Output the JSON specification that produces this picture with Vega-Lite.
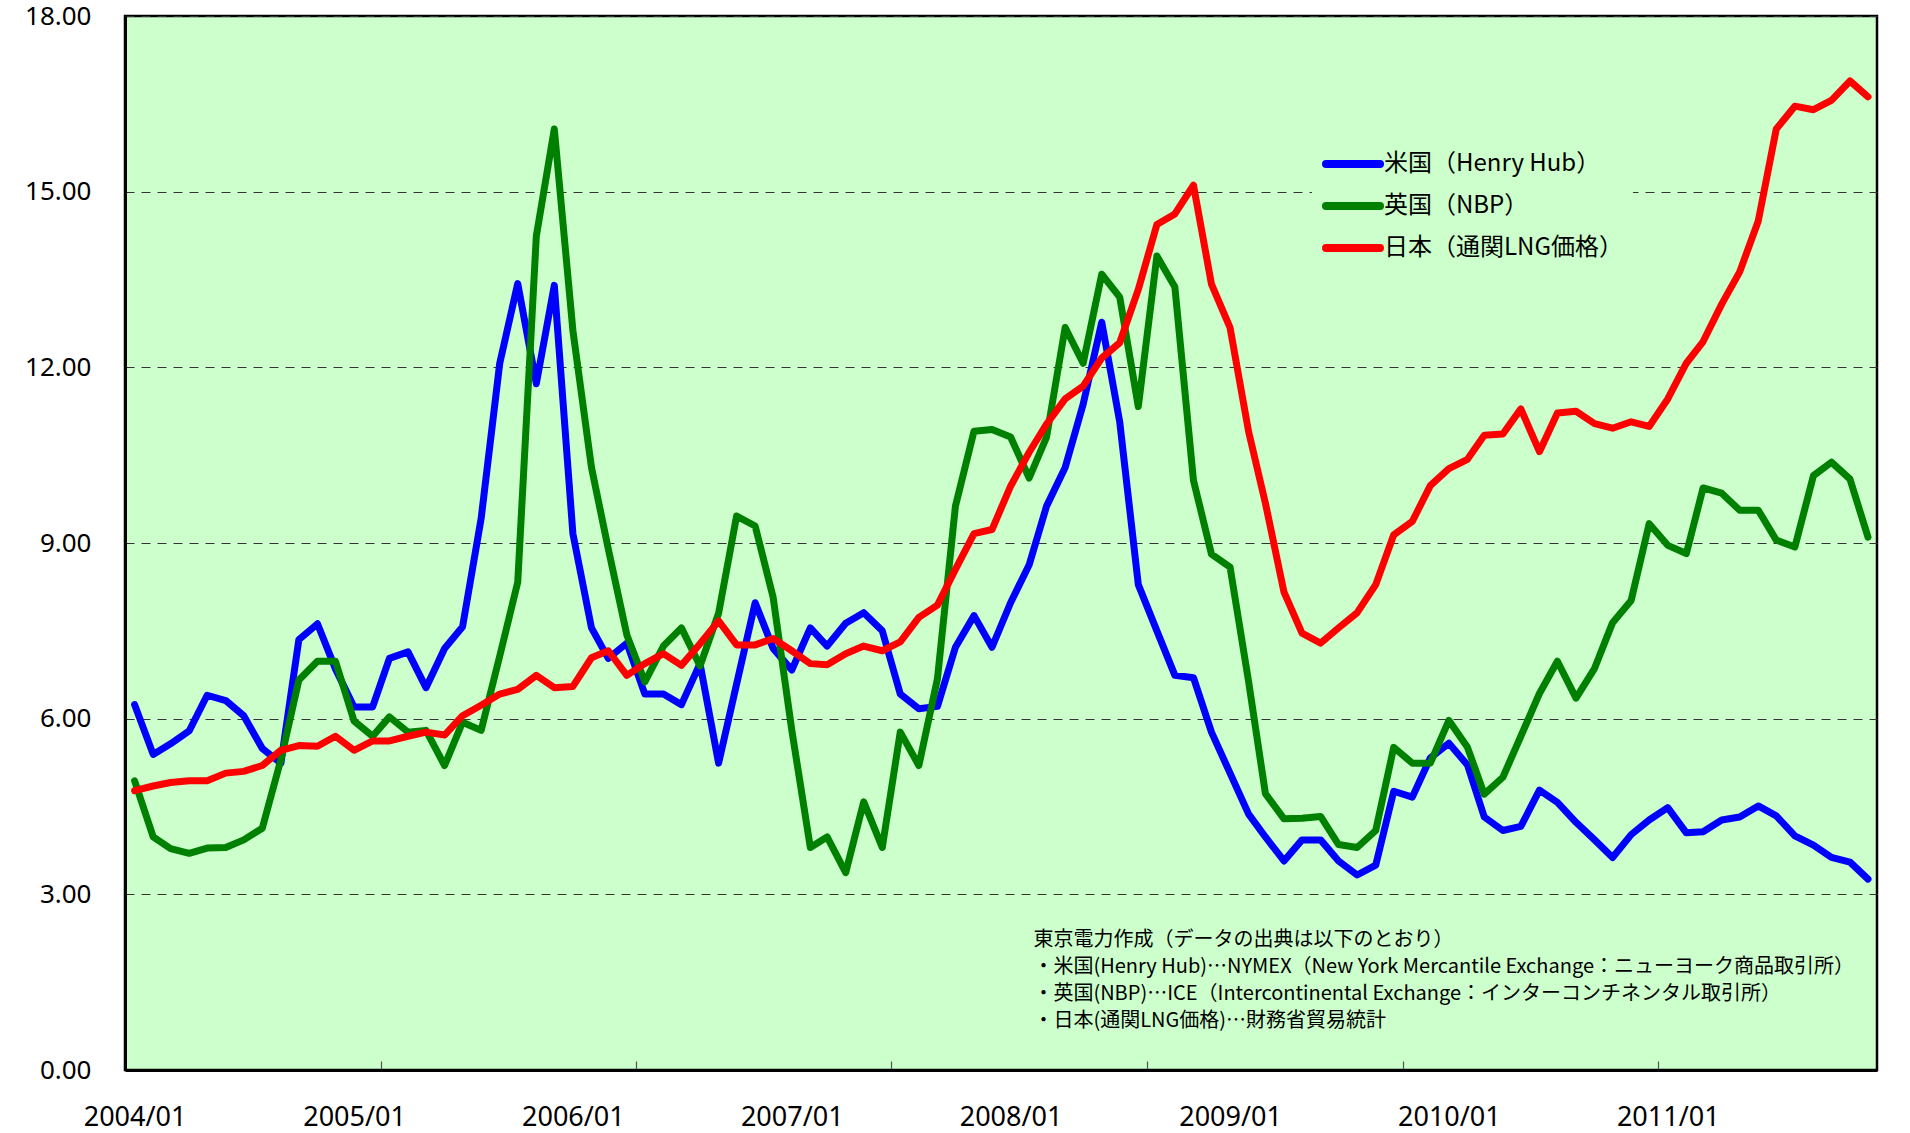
{
  "$schema": "https://vega.github.io/schema/vega-lite/v6.json",
  "width": 1752,
  "height": 1054,
  "autosize": {"type": "none"},
  "padding": {"left": 125, "top": 16, "right": 33, "bottom": 63},
  "background": "#ffffff",
  "config": {
    "view": {"fill": "#CCFFCC", "stroke": "#000000", "strokeWidth": 2.5}
  },
  "layer": [
    {
      "data": {
        "values": [
          {"month": "2004/01", "us": 6.24, "uk": 4.94, "jp": 4.77},
          {"month": "2004/02", "us": 5.39, "uk": 3.98, "jp": 4.85},
          {"month": "2004/03", "us": 5.57, "uk": 3.78, "jp": 4.91},
          {"month": "2004/04", "us": 5.79, "uk": 3.70, "jp": 4.94},
          {"month": "2004/05", "us": 6.40, "uk": 3.79, "jp": 4.94},
          {"month": "2004/06", "us": 6.31, "uk": 3.80, "jp": 5.07},
          {"month": "2004/07", "us": 6.05, "uk": 3.93, "jp": 5.10},
          {"month": "2004/08", "us": 5.49, "uk": 4.13, "jp": 5.20},
          {"month": "2004/09", "us": 5.24, "uk": 5.30, "jp": 5.46},
          {"month": "2004/10", "us": 7.35, "uk": 6.66, "jp": 5.54},
          {"month": "2004/11", "us": 7.62, "uk": 6.98, "jp": 5.53},
          {"month": "2004/12", "us": 6.85, "uk": 6.98, "jp": 5.70},
          {"month": "2005/01", "us": 6.20, "uk": 5.96, "jp": 5.46},
          {"month": "2005/02", "us": 6.20, "uk": 5.70, "jp": 5.62},
          {"month": "2005/03", "us": 7.03, "uk": 6.03, "jp": 5.62},
          {"month": "2005/04", "us": 7.14, "uk": 5.77, "jp": 5.70},
          {"month": "2005/05", "us": 6.53, "uk": 5.80, "jp": 5.77},
          {"month": "2005/06", "us": 7.20, "uk": 5.20, "jp": 5.72},
          {"month": "2005/07", "us": 7.57, "uk": 5.94, "jp": 6.05},
          {"month": "2005/08", "us": 9.42, "uk": 5.80, "jp": 6.23},
          {"month": "2005/09", "us": 12.07, "uk": 7.07, "jp": 6.42},
          {"month": "2005/10", "us": 13.43, "uk": 8.33, "jp": 6.50},
          {"month": "2005/11", "us": 11.72, "uk": 14.24, "jp": 6.74},
          {"month": "2005/12", "us": 13.40, "uk": 16.07, "jp": 6.53},
          {"month": "2006/01", "us": 9.16, "uk": 12.63, "jp": 6.55},
          {"month": "2006/02", "us": 7.55, "uk": 10.29, "jp": 7.04},
          {"month": "2006/03", "us": 7.03, "uk": 8.90, "jp": 7.16},
          {"month": "2006/04", "us": 7.29, "uk": 7.43, "jp": 6.74},
          {"month": "2006/05", "us": 6.42, "uk": 6.63, "jp": 6.94},
          {"month": "2006/06", "us": 6.42, "uk": 7.24, "jp": 7.11},
          {"month": "2006/07", "us": 6.24, "uk": 7.55, "jp": 6.91},
          {"month": "2006/08", "us": 6.94, "uk": 6.90, "jp": 7.28},
          {"month": "2006/09", "us": 5.24, "uk": 7.80, "jp": 7.67},
          {"month": "2006/10", "us": 6.59, "uk": 9.46, "jp": 7.26},
          {"month": "2006/11", "us": 7.98, "uk": 9.29, "jp": 7.26},
          {"month": "2006/12", "us": 7.20, "uk": 8.07, "jp": 7.37},
          {"month": "2007/01", "us": 6.83, "uk": 5.81, "jp": 7.16},
          {"month": "2007/02", "us": 7.55, "uk": 3.80, "jp": 6.94},
          {"month": "2007/03", "us": 7.24, "uk": 3.98, "jp": 6.92},
          {"month": "2007/04", "us": 7.63, "uk": 3.37, "jp": 7.11},
          {"month": "2007/05", "us": 7.81, "uk": 4.58, "jp": 7.24},
          {"month": "2007/06", "us": 7.50, "uk": 3.80, "jp": 7.16},
          {"month": "2007/07", "us": 6.42, "uk": 5.77, "jp": 7.31},
          {"month": "2007/08", "us": 6.17, "uk": 5.20, "jp": 7.73},
          {"month": "2007/09", "us": 6.21, "uk": 6.68, "jp": 7.94},
          {"month": "2007/10", "us": 7.22, "uk": 9.63, "jp": 8.55},
          {"month": "2007/11", "us": 7.76, "uk": 10.91, "jp": 9.16},
          {"month": "2007/12", "us": 7.22, "uk": 10.94, "jp": 9.23},
          {"month": "2008/01", "us": 7.98, "uk": 10.81, "jp": 9.97},
          {"month": "2008/02", "us": 8.63, "uk": 10.11, "jp": 10.55},
          {"month": "2008/03", "us": 9.63, "uk": 10.81, "jp": 11.03},
          {"month": "2008/04", "us": 10.29, "uk": 12.68, "jp": 11.46},
          {"month": "2008/05", "us": 11.37, "uk": 12.07, "jp": 11.68},
          {"month": "2008/06", "us": 12.77, "uk": 13.59, "jp": 12.16},
          {"month": "2008/07", "us": 11.07, "uk": 13.20, "jp": 12.42},
          {"month": "2008/08", "us": 8.29, "uk": 11.33, "jp": 13.33},
          {"month": "2008/09", "us": 7.50, "uk": 13.90, "jp": 14.44},
          {"month": "2008/10", "us": 6.74, "uk": 13.37, "jp": 14.62},
          {"month": "2008/11", "us": 6.70, "uk": 10.07, "jp": 15.11},
          {"month": "2008/12", "us": 5.77, "uk": 8.81, "jp": 13.42},
          {"month": "2009/01", "us": 5.07, "uk": 8.59, "jp": 12.68},
          {"month": "2009/02", "us": 4.37, "uk": 6.63, "jp": 10.90},
          {"month": "2009/03", "us": 3.98, "uk": 4.72, "jp": 9.68},
          {"month": "2009/04", "us": 3.57, "uk": 4.29, "jp": 8.16},
          {"month": "2009/05", "us": 3.93, "uk": 4.30, "jp": 7.46},
          {"month": "2009/06", "us": 3.93, "uk": 4.33, "jp": 7.29},
          {"month": "2009/07", "us": 3.57, "uk": 3.85, "jp": 7.55},
          {"month": "2009/08", "us": 3.33, "uk": 3.80, "jp": 7.81},
          {"month": "2009/09", "us": 3.50, "uk": 4.09, "jp": 8.29},
          {"month": "2009/10", "us": 4.76, "uk": 5.51, "jp": 9.14},
          {"month": "2009/11", "us": 4.66, "uk": 5.24, "jp": 9.37},
          {"month": "2009/12", "us": 5.33, "uk": 5.24, "jp": 9.98},
          {"month": "2010/01", "us": 5.58, "uk": 5.97, "jp": 10.27},
          {"month": "2010/02", "us": 5.21, "uk": 5.51, "jp": 10.43},
          {"month": "2010/03", "us": 4.32, "uk": 4.71, "jp": 10.84},
          {"month": "2010/04", "us": 4.09, "uk": 5.00, "jp": 10.86},
          {"month": "2010/05", "us": 4.16, "uk": 5.70, "jp": 11.29},
          {"month": "2010/06", "us": 4.78, "uk": 6.43, "jp": 10.56},
          {"month": "2010/07", "us": 4.57, "uk": 6.98, "jp": 11.22},
          {"month": "2010/08", "us": 4.23, "uk": 6.35, "jp": 11.25},
          {"month": "2010/09", "us": 3.93, "uk": 6.86, "jp": 11.04},
          {"month": "2010/10", "us": 3.63, "uk": 7.64, "jp": 10.96},
          {"month": "2010/11", "us": 4.02, "uk": 8.02, "jp": 11.07},
          {"month": "2010/12", "us": 4.27, "uk": 9.33, "jp": 10.99},
          {"month": "2011/01", "us": 4.48, "uk": 8.96, "jp": 11.46},
          {"month": "2011/02", "us": 4.05, "uk": 8.82, "jp": 12.07},
          {"month": "2011/03", "us": 4.07, "uk": 9.94, "jp": 12.44},
          {"month": "2011/04", "us": 4.27, "uk": 9.85, "jp": 13.08},
          {"month": "2011/05", "us": 4.32, "uk": 9.56, "jp": 13.63},
          {"month": "2011/06", "us": 4.51, "uk": 9.56, "jp": 14.50},
          {"month": "2011/07", "us": 4.34, "uk": 9.05, "jp": 16.07},
          {"month": "2011/08", "us": 4.00, "uk": 8.93, "jp": 16.46},
          {"month": "2011/09", "us": 3.84, "uk": 10.15, "jp": 16.40},
          {"month": "2011/10", "us": 3.63, "uk": 10.38, "jp": 16.56},
          {"month": "2011/11", "us": 3.55, "uk": 10.09, "jp": 16.89},
          {"month": "2011/12", "us": 3.26, "uk": 9.10, "jp": 16.62}
        ],
        "format": {"parse": {"month": "date:'%Y/%m'"}}
      },
      "transform": [{"fold": ["us", "uk", "jp"], "as": ["series", "price"]}],
      "mark": {"type": "line", "strokeWidth": 7, "strokeJoin": "round", "strokeCap": "round"},
      "encoding": {
        "x": {
          "field": "month",
          "type": "temporal",
          "scale": {"domain": [{"year": 2003, "month": 12, "date": 16}, {"year": 2011, "month": 12, "date": 16}]},
          "axis": {
            "title": null,
            "values": [
              {"year": 2004, "month": 1, "date": 1},
              {"year": 2005, "month": 1, "date": 1},
              {"year": 2006, "month": 1, "date": 1},
              {"year": 2007, "month": 1, "date": 1},
              {"year": 2008, "month": 1, "date": 1},
              {"year": 2009, "month": 1, "date": 1},
              {"year": 2010, "month": 1, "date": 1},
              {"year": 2011, "month": 1, "date": 1},
              {"year": 2005, "month": 2, "date": 15},
              {"year": 2006, "month": 4, "date": 16},
              {"year": 2007, "month": 6, "date": 16},
              {"year": 2008, "month": 8, "date": 16},
              {"year": 2009, "month": 10, "date": 16},
              {"year": 2010, "month": 12, "date": 16}
            ],
            "labelExpr": "date(datum.value) == 1 ? timeFormat(datum.value, '%Y/%m') : ''",
            "labelFont": "Noto Sans",
            "labelFontSize": 27,
            "labelColor": "#000000",
            "labelPadding": 43,
            "labelOverlap": false,
            "labelFlush": false,
            "tickSize": -9,
            "tickColor": "#555555",
            "tickWidth": 1.2,
            "tickOpacity": {"condition": {"test": "date(datum.value) == 1", "value": 0}, "value": 1},
            "domainColor": "#000000",
            "domainWidth": 3,
            "grid": false
          }
        },
        "y": {
          "field": "price",
          "type": "quantitative",
          "scale": {"domain": [0, 18], "nice": false},
          "axis": {
            "title": null,
            "values": [0, 3, 6, 9, 12, 15, 18],
            "format": ".2f",
            "ticks": false,
            "labelPadding": 34,
            "labelFont": "Noto Sans",
            "labelFontSize": 26,
            "labelColor": "#000000",
            "grid": true,
            "gridDash": [9, 7],
            "gridColor": "#333333",
            "gridWidth": 1.1,
            "domainColor": "#000000",
            "domainWidth": 3
          }
        },
        "color": {
          "field": "series",
          "type": "nominal",
          "scale": {"domain": ["us", "uk", "jp"], "range": ["#0000FF", "#008000", "#FF0000"]},
          "legend": {
            "orient": "none",
            "legendX": 1187,
            "legendY": 126,
            "title": null,
            "fillColor": "#CCFFCC",
            "padding": 10,
            "symbolType": "stroke",
            "symbolSize": 2916,
            "symbolStrokeWidth": 8,
            "clipHeight": 24,
            "labelFont": "Noto Sans CJK JP",
            "labelFontSize": 24,
            "labelColor": "#000000",
            "labelOffset": 0,
            "rowPadding": 18,
            "labelExpr": "datum.value == 'us' ? '米国（Henry Hub）' : datum.value == 'uk' ? '英国（NBP）' : '日本（通関LNG価格）'",
            "labelLimit": 400,
            "encode": {"symbols": {"update": {"strokeCap": {"value": "round"}}}}
          }
        }
      }
    },
    {
      "data": {
        "values": [
          {"note": [
            "東京電力作成（データの出典は以下のとおり）",
            "  ・米国(Henry Hub)…NYMEX（New York Mercantile Exchange：ニューヨーク商品取引所）",
            "  ・英国(NBP)…ICE（Intercontinental Exchange：インターコンチネンタル取引所）",
            "  ・日本(通関LNG価格)…財務省貿易統計"
          ]}
        ]
      },
      "mark": {"type": "text", "align": "left", "baseline": "top", "font": "Noto Sans CJK JP", "fontSize": 20, "lineHeight": 27, "color": "#000000"},
      "encoding": {
        "x": {"datum": {"year": 2008, "month": 2, "date": 8}, "type": "temporal"},
        "y": {"datum": 2.39, "type": "quantitative"},
        "text": {"field": "note"}
      }
    }
  ]
}
